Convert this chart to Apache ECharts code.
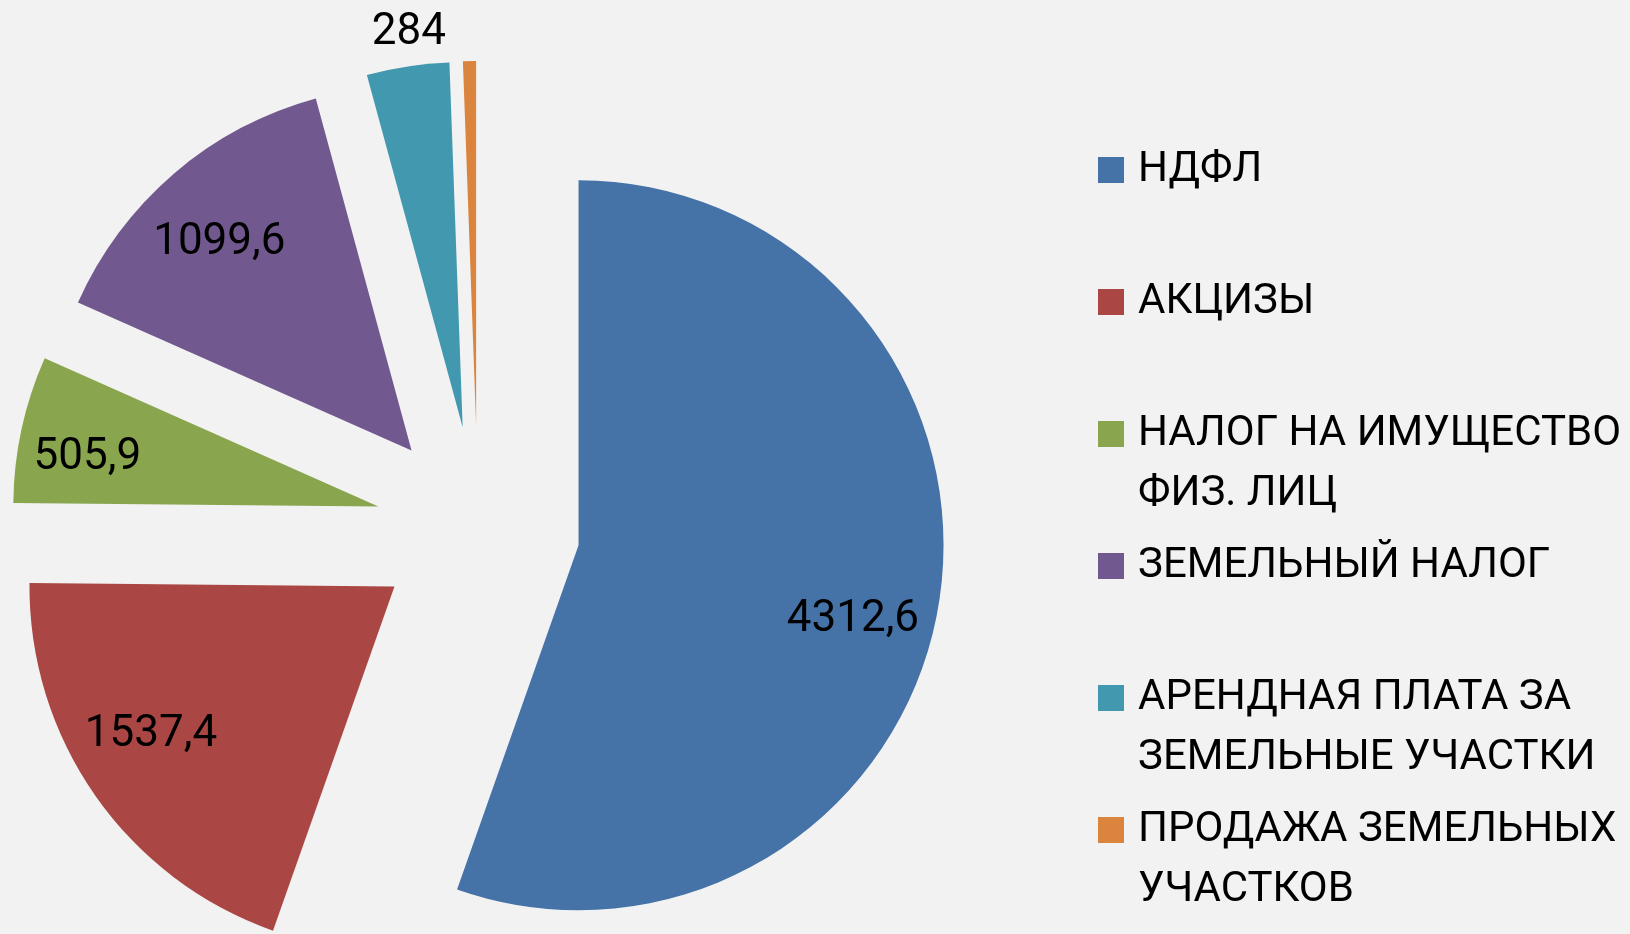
<!DOCTYPE html>
<html>
<head>
<meta charset="utf-8">
<script src="https://cdn.jsdelivr.net/npm/echarts@6/dist/echarts.min.js"></script>
<style>
  html, body { margin: 0; padding: 0; background: #f2f2f2; }
  #chart { width: 1630px; height: 934px; }
</style>
</head>
<body>
<div id="chart"></div>
<script>
// доходы бюджета, значения из подписей
const categories = [
  'НДФЛ',
  'АКЦИЗЫ',
  'НАЛОГ НА ИМУЩЕСТВО\nФИЗ. ЛИЦ',
  'ЗЕМЕЛЬНЫЙ НАЛОГ',
  'АРЕНДНАЯ ПЛАТА ЗА\nЗЕМЕЛЬНЫЕ УЧАСТКИ',
  'ПРОДАЖА ЗЕМЕЛЬНЫХ\nУЧАСТКОВ'
];
const values = [4312.6, 1537.4, 505.9, 1099.6, 284, 45]; // последнее без подписи, оценка по углу
const colors = ['#4572A7', '#AA4643', '#89A54E', '#71588F', '#4198AF', '#DB843D'];
const showLabel = [true, true, true, true, true, false];

const FONT = 'Roboto';
const FS = 42;
const LINE = 60;      // межстрочный интервал легенды

const center = [478, 528];
const radius = 365;
const explode = 102;

// сдвиги подписей как в экселе (best fit)
const nudge = [[-9, 26], [-8, -16], [-10, 13], [-5, 11], [6, -33], [0, 0]];

const chart = echarts.init(document.getElementById('chart'));

const pieData = categories.map((name, i) => ({
  name: name,
  value: values[i],
  selected: true,
  itemStyle: { color: colors[i] }
}));

const labelData = categories.map((name, i) => {
  const item = { name: name, value: values[i], selected: true };
  if (!showLabel[i]) {
    item.label = { show: false };
  } else if (i === 4) {
    item.label = { position: 'outside' };
    item.labelLine = { show: false, length: 0, length2: 0 };
  }
  return item;
});

const option = {
  backgroundColor: '#f2f2f2',
  animation: false,
  legend: {
    orient: 'vertical',
    left: 1098,
    top: 170 - LINE * 1.5,
    padding: 0,
    itemGap: 132 - LINE * 3,
    itemWidth: 26,
    itemHeight: 26,
    icon: 'rect',
    selectedMode: false,
    align: 'left',
    // три строки на элемент: иконка напротив первой строки текста
    formatter: (name) => (name.indexOf('\n') >= 0 ? '\n' + name : '\n' + name + '\n'),
    textStyle: {
      fontFamily: FONT,
      fontSize: FS,
      lineHeight: LINE,
      color: '#000',
      padding: [0, 0, 0, 9]
    },
    data: categories
  },
  series: [
    {
      name: 'доходы',
      type: 'pie',
      center: center,
      radius: [0, radius],
      startAngle: 90,
      clockwise: true,
      selectedMode: 'multiple',
      selectedOffset: explode,
      silent: true,
      emphasis: { disabled: true },
      label: { show: false },
      labelLine: { show: false },
      itemStyle: { borderWidth: 0 },
      data: pieData
    },
    {
      name: 'подписи',
      type: 'pie',
      center: center,
      radius: [204, radius],
      startAngle: 90,
      clockwise: true,
      selectedMode: 'multiple',
      selectedOffset: explode,
      silent: true,
      avoidLabelOverlap: false,
      emphasis: { disabled: true },
      itemStyle: { color: 'rgba(0,0,0,0)', borderWidth: 0 },
      label: {
        show: true,
        position: 'inside',
        fontFamily: FONT,
        fontSize: 44,
        color: '#000',
        textBorderWidth: 0,
        formatter: (p) => String(p.value).replace('.', ',')
      },
      labelLine: { show: false },
      labelLayout: (params) => {
        const n = nudge[params.dataIndex];
        const res = { dx: n[0], dy: n[1] };
        if (params.dataIndex === 4) {
          res.align = 'center';
          res.verticalAlign = 'middle';
        }
        return res;
      },
      data: labelData
    }
  ]
};

chart.setOption(option);
</script>
</body>
</html>
